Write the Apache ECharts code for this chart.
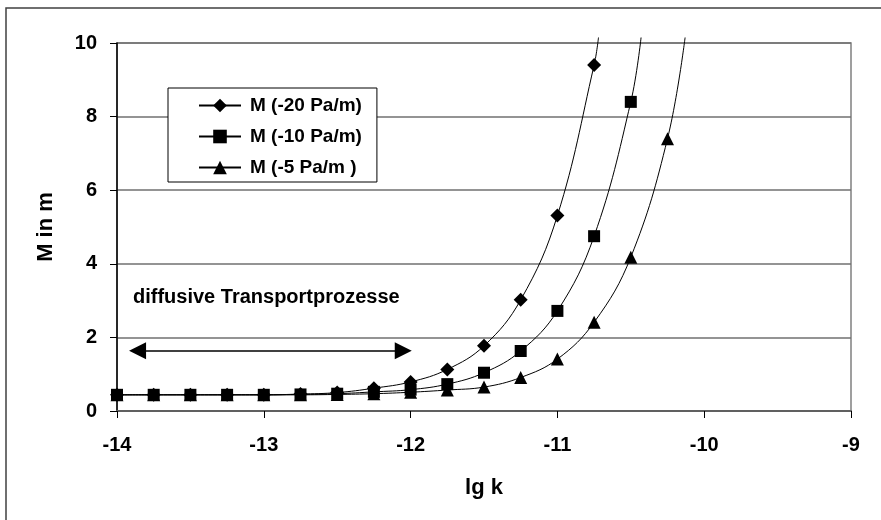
<!DOCTYPE html>
<html>
<head>
<meta charset="utf-8">
<script src="https://cdn.jsdelivr.net/npm/echarts@6/dist/echarts.min.js"></script>
<style>
  html, body { margin: 0; padding: 0; background: #fff; }
  #chart { width: 881px; height: 520px; }
</style>
</head>
<body>
<div id="chart"></div>
<script>
// lg k Werte (Schritt 0.25)
var lgK = [-14, -13.75, -13.5, -13.25, -13, -12.75, -12.5, -12.25, -12, -11.75, -11.5, -11.25, -11, -10.75, -10.5, -10.25];

// M in m je Druckgradient
var m20 = [0.44, 0.44, 0.44, 0.44, 0.44, 0.46, 0.50, 0.62, 0.79, 1.13, 1.77, 3.02, 5.31, 9.40];
var m10 = [0.44, 0.44, 0.44, 0.44, 0.44, 0.45, 0.47, 0.52, 0.58, 0.73, 1.04, 1.63, 2.72, 4.75, 8.40];
var m5  = [0.44, 0.44, 0.44, 0.44, 0.44, 0.44, 0.45, 0.47, 0.51, 0.57, 0.65, 0.91, 1.41, 2.41, 4.18, 7.40];

// sichtbares Kurvenende oberhalb der letzten Punkte
var end20 = [-10.72, 10.15];
var end10 = [-10.43, 10.15];
var end5  = [-10.13, 10.15];

var names = ['M (-20 Pa/m)', 'M (-10 Pa/m)', 'M (-5 Pa/m )'];
var symbols = ['diamond', 'rect', 'triangle'];
var symbolSizes = [14, 12, 13];

// Pfeil "diffusive Transportprozesse"
var arrowFrom = [-13.86, 1.64];
var arrowTo = [-12.05, 1.64];

var font = 'Liberation Sans, Arial, sans-serif';

function pairs(vals, end) {
    var out = [];
    for (var i = 0; i < vals.length; i++) {
        out.push([lgK[i], vals[i]]);
    }
    out.push({ value: end, symbol: 'none' });
    return out;
}

var chart = echarts.init(document.getElementById('chart'));

var series = [m20, m10, m5].map(function (vals, i) {
    var ends = [end20, end10, end5];
    return {
        name: names[i],
        type: 'line',
        smooth: 0.4,
        clip: false,
        symbol: symbols[i],
        symbolSize: symbolSizes[i],
        showAllSymbol: true,
        color: '#000',
        lineStyle: { color: '#000', width: 1 },
        itemStyle: { color: '#000' },
        data: pairs(vals, ends[i])
    };
});

series[0].markLine = {
    silent: true,
    symbol: ['triangle', 'triangle'],
    symbolSize: [17, 17],
    label: { show: false },
    lineStyle: { color: '#000', width: 1.5, type: 'solid' },
    data: [[{ coord: arrowFrom }, { coord: arrowTo }]]
};

chart.setOption({
    animation: false,
    backgroundColor: '#fff',
    grid: {
        left: 117, right: 30, top: 43, bottom: 109,
        show: true,
        borderColor: '#808080',
        borderWidth: 1.5
    },
    legend: {
        data: names,
        orient: 'vertical',
        left: 168,
        top: 88,
        backgroundColor: '#fff',
        borderColor: '#000',
        borderWidth: 1,
        borderRadius: 0,
        padding: [8, 15, 5, 30],
        itemWidth: 42,
        itemHeight: 17,
        itemGap: 12,
        textStyle: {
            fontFamily: font, fontWeight: 'bold', fontSize: 19, color: '#000',
            padding: [0, 0, 0, 4]
        }
    },
    xAxis: {
        type: 'value',
        min: -14, max: -9, interval: 1,
        name: 'lg k',
        nameLocation: 'middle',
        nameGap: 66,
        nameTextStyle: { fontFamily: font, fontWeight: 'bold', fontSize: 22, color: '#000' },
        axisLine: { onZero: false, lineStyle: { color: '#606060', width: 2 } },
        axisTick: { show: true, length: 7, lineStyle: { color: '#000', width: 1 } },
        axisLabel: { margin: 24, fontFamily: font, fontWeight: 'bold', fontSize: 20, color: '#000' },
        splitLine: { show: false }
    },
    yAxis: {
        type: 'value',
        min: 0, max: 10, interval: 2,
        name: 'M in m',
        nameLocation: 'middle',
        nameGap: 60,
        nameTextStyle: { fontFamily: font, fontWeight: 'bold', fontSize: 22, color: '#000' },
        axisLine: { show: true, onZero: false, lineStyle: { color: '#000', width: 1.5 } },
        axisTick: { show: true, length: 7, lineStyle: { color: '#000', width: 1 } },
        axisLabel: { margin: 20, fontFamily: font, fontWeight: 'bold', fontSize: 20, color: '#000' },
        splitLine: { show: true, lineStyle: { color: '#707070', width: 1.5 } }
    },
    graphic: [
        {
            type: 'rect',
            silent: true,
            shape: { x: 6, y: 8, width: 900, height: 600 },
            style: { fill: 'none', stroke: '#404040', lineWidth: 1.5 }
        },
        {
            type: 'text',
            silent: true,
            x: 133, y: 297,
            style: {
                text: 'diffusive Transportprozesse',
                fontFamily: font, fontWeight: 'bold', fontSize: 20,
                fill: '#000',
                verticalAlign: 'middle'
            }
        }
    ],
    series: series
});
</script>
</body>
</html>
